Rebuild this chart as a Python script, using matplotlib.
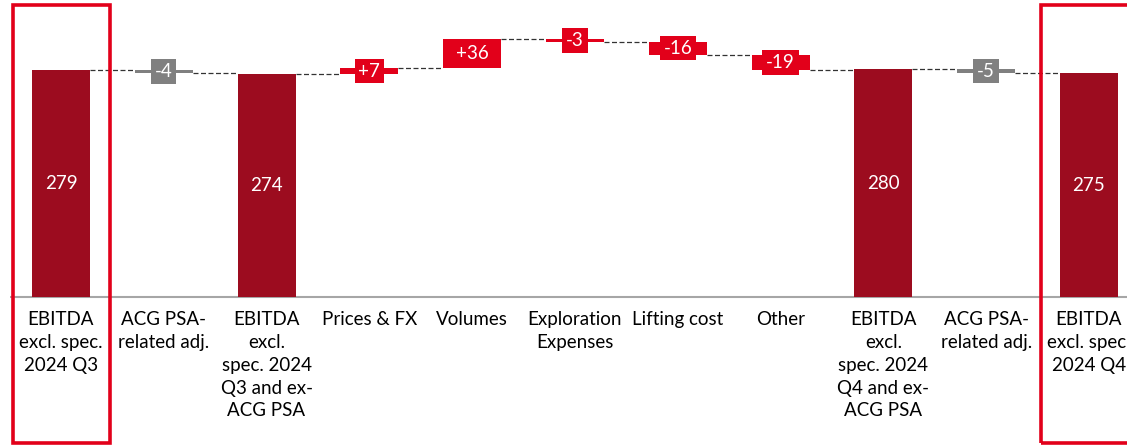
import matplotlib.pyplot as plt
from matplotlib.patches import Rectangle

# --- data ---
categories = [
    "EBITDA\nexcl. spec.\n2024 Q3",
    "ACG PSA-\nrelated adj.",
    "EBITDA\nexcl.\nspec. 2024\nQ3 and ex-\nACG PSA",
    "Prices & FX",
    "Volumes",
    "Exploration\nExpenses",
    "Lifting cost",
    "Other",
    "EBITDA\nexcl.\nspec. 2024\nQ4 and ex-\nACG PSA",
    "ACG PSA-\nrelated adj.",
    "EBITDA\nexcl. spec.\n2024 Q4",
]
values = [279, -4, 274, 7, 36, -3, -16, -19, 280, -5, 275]
kinds = ["total", "adj", "total", "delta", "delta", "delta", "delta", "delta", "total", "adj", "total"]
value_labels = ["279", "-4", "274", "+7", "+36", "-3", "-16", "-19", "280", "-5", "275"]
highlighted = [0, 10]

DARK_RED = "#9C0C1F"
RED = "#E2001A"
GREY = "#808080"
colors = {"total": DARK_RED, "delta": RED, "adj": GREY}

plt.rcParams['font.family'] = ['Lato', 'DejaVu Sans']

fig = plt.figure(figsize=(11.27, 4.46), dpi=100)
ax = fig.add_axes([0, 0, 1, 1])
ax.set_xlim(-0.593, 10.37)
ax.set_ylim(-183, 365)
ax.axis("off")

bw = 0.565
level = 0
ends = []
for i, (v, k, lab) in enumerate(zip(values, kinds, value_labels)):
    c = colors[k]
    if k == "total":
        ax.bar(i, v, width=bw, color=c, zorder=3)
        ax.text(i, v / 2, lab, ha="center", va="center", color="white", fontsize=13.5, zorder=4)
        level = v
    else:
        bottom = level if v > 0 else level + v
        ax.bar(i, abs(v), bottom=bottom, width=bw, color=c, zorder=3)
        ax.text(i, bottom + abs(v) / 2, lab, ha="center", va="center", color="white", fontsize=13.5,
                zorder=4, bbox=dict(boxstyle="square,pad=0.2", fc=c, ec="none"))
        level += v
    ends.append(level)

# dashed connectors
for i in range(len(values) - 1):
    ax.plot([i + bw / 2, i + 1 - bw / 2], [ends[i], ends[i]], color="#333333", lw=0.9,
            ls=(0, (4, 2)), zorder=2)

# baseline
ax.plot([-0.5, 10.37], [0, 0], color="#A6A6A6", lw=1.5, zorder=2, solid_capstyle="butt")

# category labels
for i, cat in enumerate(categories):
    ax.text(i, -17, cat, ha="center", va="top", fontsize=13.5, color="black", linespacing=1.42)

# highlight frames
for i in highlighted:
    ax.add_patch(Rectangle((i - 0.47, -179), 0.945, 538, fill=False, ec=RED, lw=2.6,
                           clip_on=False, zorder=5))

fig.savefig("out.png", dpi=100)
